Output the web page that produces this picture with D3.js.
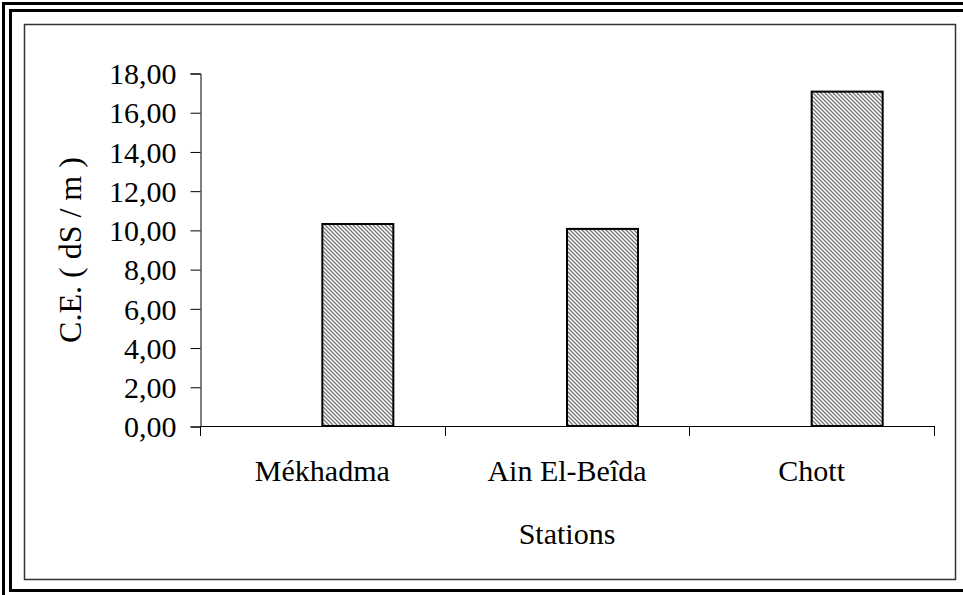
<!DOCTYPE html>
<html>
<head>
<meta charset="utf-8">
<script src="https://cdn.jsdelivr.net/npm/d3@7"></script>
<style>
  body { margin: 0; background: #fff; overflow: hidden; }
  svg { display: block; }
  svg text { font-family: "Liberation Serif", "Times New Roman", serif; fill: #000; }
</style>
</head>
<body>
<div id="chart"></div>
<script>
var stations = ["Mékhadma", "Ain El-Beîda", "Chott"];
var ceValues = [10.3, 10.05, 17.05];
var yTicks = [0, 2, 4, 6, 8, 10, 12, 14, 16, 18];

function init(){
    var w = 963;
    var h = 595;
    var left = 200, right = 934, top = 73, bottom = 426;

    var svg = d3.select("#chart")
      .append("svg")
      .attr("width", w)
      .attr("height", h);

    // hatch pattern for the bars
    var pat = svg.append("defs").append("pattern")
      .attr("id", "hatch")
      .attr("patternUnits", "userSpaceOnUse")
      .attr("width", 4).attr("height", 4);
    pat.append("rect").attr("width", 4).attr("height", 4).attr("fill", "#fff");
    pat.append("path")
      .attr("d", "M0,0 L4,4 M-1,3 L1,5 M3,-1 L5,1")
      .attr("stroke", "#777").attr("stroke-width", 1.3);

    // page frame
    svg.append("rect").attr("x", 3.5).attr("y", 3.5).attr("width", 980).attr("height", 610)
      .attr("fill", "none").attr("stroke", "#000").attr("stroke-width", 3);
    svg.append("rect").attr("x", 10.5).attr("y", 10.5).attr("width", 970).attr("height", 580)
      .attr("fill", "none").attr("stroke", "#000").attr("stroke-width", 3);
    svg.append("rect").attr("x", 24.5).attr("y", 24.5).attr("width", 931).attr("height", 555)
      .attr("fill", "none").attr("stroke", "#333").attr("stroke-width", 1.5);

    var xScale = d3.scaleBand().domain(stations).range([left, right]).padding(0);
    var yScale = d3.scaleLinear().domain([0, 18]).range([bottom, top]);
    var fmt = function(d){ return d3.format(".2f")(d).replace(".", ","); };

    var barW = 71;
    svg.selectAll(".bar")
      .data(stations)
      .enter().append("rect")
      .attr("class", "bar")
      .attr("x", function(d){ return xScale(d) + xScale.bandwidth() / 2; })
      .attr("y", function(d, i){ return yScale(ceValues[i]); })
      .attr("width", barW)
      .attr("height", function(d, i){ return bottom - yScale(ceValues[i]); })
      .attr("fill", "url(#hatch)")
      .attr("stroke", "#000")
      .attr("stroke-width", 2);

    // y axis
    var yAxis = d3.axisLeft(yScale).tickValues(yTicks).tickFormat(fmt).tickSize(10).tickPadding(14);
    var gy = svg.append("g")
      .attr("transform", "translate(" + (left + 0.5) + ",0.5)")
      .call(yAxis);
    gy.selectAll("text").style("font-size", "30px").attr("dy", "0.34em");
    gy.select(".domain").attr("stroke", "#000");

    // x axis: ticks at category boundaries
    svg.append("line")
      .attr("x1", left).attr("x2", right + 0.5)
      .attr("y1", bottom + 0.5).attr("y2", bottom + 0.5)
      .attr("stroke", "#000");
    var bounds = stations.map(function(d){ return xScale(d); }).concat([right]);
    svg.selectAll(".xtick")
      .data(bounds)
      .enter().append("line")
      .attr("x1", function(d){ return Math.round(d) + 0.5; })
      .attr("x2", function(d){ return Math.round(d) + 0.5; })
      .attr("y1", bottom).attr("y2", bottom + 10)
      .attr("stroke", "#000");
    svg.selectAll(".xlabel")
      .data(stations)
      .enter().append("text")
      .attr("x", function(d){ return xScale(d) + xScale.bandwidth() / 2; })
      .attr("y", 481)
      .attr("text-anchor", "middle")
      .style("font-size", "30px")
      .text(function(d){ return d; });

    svg.append("text")
      .attr("x", 567).attr("y", 544)
      .attr("text-anchor", "middle")
      .style("font-size", "30px")
      .text("Stations");

    svg.append("text")
      .attr("transform", "translate(81,250) rotate(-90)")
      .attr("text-anchor", "middle")
      .style("font-size", "32px")
      .text("C.E. ( dS / m )");
}

window.onload = init;
</script>
</body>
</html>
